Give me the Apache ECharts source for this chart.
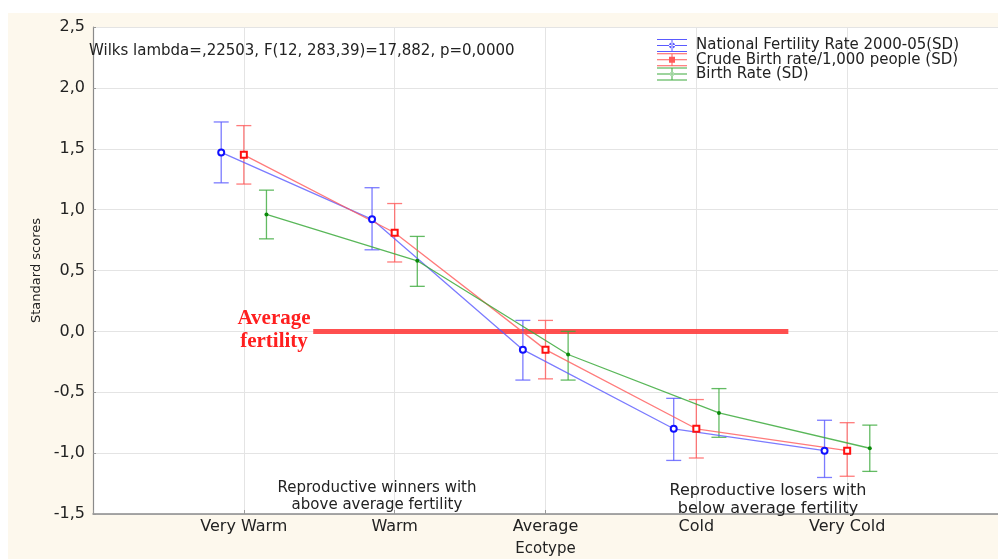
<!DOCTYPE html>
<html>
<head>
<meta charset="utf-8">
<script src="https://cdn.jsdelivr.net/npm/echarts@6/dist/echarts.min.js"></script>
<style>
html,body{margin:0;padding:0;background:#fff;}
#chart{width:998px;height:559px;}
</style>
</head>
<body>
<div id="chart"></div>
<script>
// categories and tick labels
var ecotypes = ['Very Warm', 'Warm', 'Average', 'Cold', 'Very Cold'];
var yTicks = [-1.5, -1.0, -0.5, 0.0, 0.5, 1.0, 1.5, 2.0, 2.5];

// National Fertility Rate 2000-05 (SD): mean, lower, upper
var natMean = [1.47, 0.92, -0.15, -0.80, -0.98];
var natLow  = [1.22, 0.67, -0.40, -1.06, -1.20];
var natHigh = [1.72, 1.18, 0.09, -0.55, -0.73];

// Crude Birth rate/1,000 people (SD)
var crudeMean = [1.45, 0.81, -0.15, -0.80, -0.98];
var crudeLow  = [1.21, 0.57, -0.39, -1.04, -1.19];
var crudeHigh = [1.69, 1.05, 0.09, -0.56, -0.75];

// Birth Rate (SD)
var birthMean = [0.96, 0.58, -0.19, -0.67, -0.96];
var birthLow  = [0.76, 0.37, -0.40, -0.87, -1.15];
var birthHigh = [1.16, 0.78, 0.00, -0.47, -0.77];

var names = ['National Fertility Rate 2000-05(SD)', 'Crude Birth rate/1,000 people (SD)', 'Birth Rate (SD)'];

var sans = 'DejaVu Sans, Arial, sans-serif';

function fmt(v) { return v.toFixed(1).replace('.', ','); }

// points sit side by side around each category
function pts(mean, shift) {
    return mean.map(function (v, i) { return [i + 1 + shift, v]; });
}
function bars(low, high, shift) {
    return low.map(function (v, i) { return [i + 1 + shift, v, high[i]]; });
}

function errRender(color) {
    return function (params, api) {
        var lo = api.coord([api.value(0), api.value(1)]);
        var hi = api.coord([api.value(0), api.value(2)]);
        var w = 7.5;
        var st = { stroke: color, lineWidth: 1.3 };
        return {
            type: 'group',
            children: [
                { type: 'line', shape: { x1: lo[0], y1: lo[1], x2: hi[0], y2: hi[1] }, style: st },
                { type: 'line', shape: { x1: lo[0] - w, y1: lo[1], x2: lo[0] + w, y2: lo[1] }, style: st },
                { type: 'line', shape: { x1: hi[0] - w, y1: hi[1], x2: hi[0] + w, y2: hi[1] }, style: st }
            ]
        };
    };
}

var iconBase = 'M0,0H30V1H0Z M0,6H30V7H0Z M0,12H30V13H0Z M14.5,0H15.5V13H14.5Z ';

var myChart = echarts.init(document.getElementById('chart'));

myChart.setOption({
    backgroundColor: '#fff',
    animation: false,
    textStyle: { fontFamily: sans },
    grid: {
        left: 93, right: 0, top: 27, bottom: 45,
        outerBoundsMode: 'none',
        show: true, backgroundColor: '#fff', borderWidth: 0
    },
    legend: {
        orient: 'vertical',
        left: 652, top: 33,
        itemWidth: 30, itemHeight: 13, itemGap: -0.8,
        textStyle: { fontSize: 15, lineHeight: 13, color: '#222', padding: [0, 0, 0, 4], fontFamily: sans },
        data: [
            { name: names[0], icon: 'path://' + iconBase + 'M12,6.5a3,3 0 1,0 6,0a3,3 0 1,0 -6,0Z' },
            { name: names[1], icon: 'path://' + iconBase + 'M12,3.5H18V9.5H12Z' },
            { name: names[2], icon: 'path://' + iconBase + 'M13,6.5a2,2 0 1,0 4,0a2,2 0 1,0 -4,0Z' }
        ]
    },
    xAxis: {
        type: 'value', min: 0, max: 6, interval: 1,
        name: 'Ecotype', nameLocation: 'middle', nameGap: 28,
        nameTextStyle: { fontSize: 15, color: '#222' },
        axisLine: { onZero: false, lineStyle: { color: '#8a8a8a', width: 1.5 } },
        axisTick: { show: true, inside: true, length: 4, lineStyle: { color: '#999' } },
        axisLabel: {
            fontSize: 16, color: '#222', margin: 5,
            formatter: function (v) { return ecotypes[v - 1] || ''; }
        },
        splitLine: { lineStyle: { color: '#e4e4e4' } }
    },
    yAxis: {
        type: 'value', min: yTicks[0], max: yTicks[yTicks.length - 1], interval: 0.5,
        name: 'Standard scores', nameLocation: 'middle', nameGap: 50,
        nameTextStyle: { fontSize: 13, color: '#222' },
        axisLine: { show: true, onZero: false, lineStyle: { color: '#8a8a8a', width: 1.2 } },
        axisTick: { show: true, inside: true, length: 3, lineStyle: { color: '#999' } },
        axisLabel: { fontSize: 16, color: '#222', margin: 8, formatter: fmt },
        splitLine: { lineStyle: { color: '#e4e4e4' } }
    },
    graphic: [
        { type: 'rect', z: -100, shape: { x: 8, y: 13, width: 990, height: 546 }, style: { fill: '#fdf8ed' } },
        { type: 'text', z: 100, x: 89, y: 51, style: { text: 'Wilks lambda=,22503, F(12, 283,39)=17,882, p=0,0000', fontSize: 15, fill: '#222', verticalAlign: 'middle', fontFamily: sans } },
        { type: 'text', z: 100, x: 274, y: 330, style: { text: 'Average\nfertility', fontSize: 21, fontWeight: 'bold', lineHeight: 23, fill: '#ff1f1f', align: 'center', verticalAlign: 'middle', fontFamily: 'Liberation Serif, serif' } },
        { type: 'text', z: 100, x: 377, y: 497, style: { text: 'Reproductive winners with\nabove average fertility', fontSize: 15, lineHeight: 17, fill: '#222', align: 'center', verticalAlign: 'middle', fontFamily: sans } },
        { type: 'text', z: 100, x: 768, y: 500, style: { text: 'Reproductive losers with\nbelow average fertility', fontSize: 16, lineHeight: 18, fill: '#222', align: 'center', verticalAlign: 'middle', fontFamily: sans } }
    ],
    series: [
        {
            name: names[0], type: 'custom', z: 3,
            itemStyle: { color: '#5a5aff' },
            renderItem: errRender('rgba(90,90,255,0.8)'),
            encode: { x: 0, y: [1, 2] },
            data: bars(natLow, natHigh, -0.15)
        },
        {
            name: names[1], type: 'custom', z: 3,
            itemStyle: { color: '#ff5a5a' },
            renderItem: errRender('rgba(255,90,90,0.8)'),
            encode: { x: 0, y: [1, 2] },
            data: bars(crudeLow, crudeHigh, 0)
        },
        {
            name: names[2], type: 'custom', z: 3,
            itemStyle: { color: '#3caa3c' },
            renderItem: errRender('rgba(60,170,60,0.8)'),
            encode: { x: 0, y: [1, 2] },
            data: bars(birthLow, birthHigh, 0.15)
        },
        {
            name: names[0], type: 'line', z: 4,
            data: pts(natMean, -0.15),
            symbol: 'circle', symbolSize: 6,
            lineStyle: { color: 'rgba(90,90,255,0.8)', width: 1.3 },
            itemStyle: { color: '#fff', borderColor: '#1010ff', borderWidth: 2 },
            markLine: {
                silent: true, symbol: 'none', z: 2,
                lineStyle: { color: 'rgba(255,60,60,0.9)', width: 5, type: 'solid' },
                label: { show: false },
                data: [[{ coord: [1.46, 0] }, { coord: [4.61, 0] }]]
            }
        },
        {
            name: names[1], type: 'line', z: 4,
            data: pts(crudeMean, 0),
            symbol: 'rect', symbolSize: 6,
            lineStyle: { color: 'rgba(255,90,90,0.8)', width: 1.3 },
            itemStyle: { color: '#fff', borderColor: '#ff1010', borderWidth: 2 }
        },
        {
            name: names[2], type: 'line', z: 4,
            data: pts(birthMean, 0.15),
            symbol: 'circle', symbolSize: 4,
            lineStyle: { color: 'rgba(60,170,60,0.85)', width: 1.3 },
            itemStyle: { color: '#0a8a0a' }
        }
    ]
});
</script>
</body>
</html>
